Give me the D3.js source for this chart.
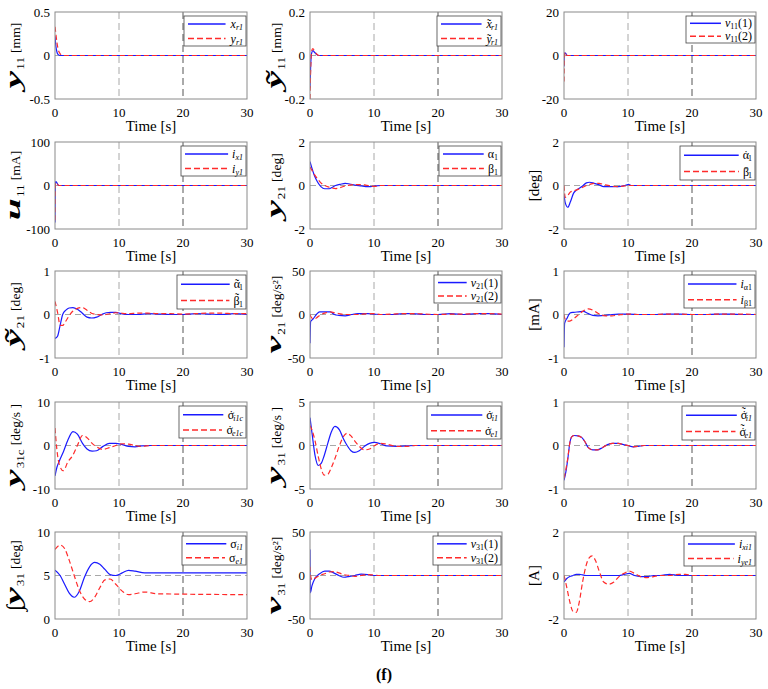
<!DOCTYPE html>
<html>
<head>
<meta charset="utf-8">
<script src="https://cdn.jsdelivr.net/npm/d3@7"></script>
<style>
  body { margin: 0; background: #fff; }
  svg { font-family: "Liberation Serif", "Times New Roman", serif; }
</style>
</head>
<body>
<svg id="chart" width="768" height="689"></svg>
<script>
// ---- data (time in s) ----
const xTicks = [0, 10, 20, 30];

const p1Time = [0, 0.15, 0.3, 0.5, 0.8, 1.2, 30];
const p1S1 = [0.22, 0.1, 0.04, 0.01, 0, 0, 0];
const p1S2 = [0.33, 0.24, 0.15, 0.07, 0.02, 0, 0];

const p2Time = [0, 0.1, 0.25, 0.45, 0.7, 1.0, 1.4, 30];
const p2S1 = [-0.15, -0.05, 0.01, 0.022, 0.015, 0.006, 0, 0];
const p2S2 = [-0.2, -0.07, 0.02, 0.032, 0.02, 0.008, 0, 0];

const p3Time = [0, 0.05, 0.15, 0.3, 0.5, 30];
const p3S1 = [-5, 0.5, 1.2, 0.8, 0, 0];
const p3S2 = [-12, -2, 1.5, 0.8, 0, 0];

const p4Time = [0, 0.05, 0.15, 0.3, 0.6, 30];
const p4S1 = [-85, 5, 9, 6, 0, 0];
const p4S2 = [-80, 3, 7, 5, 0, 0];

const p5Time = [0, 0.3, 0.7, 1.2, 1.7, 2.3, 3, 3.5, 4, 4.7, 5.5, 6.2, 7, 8, 8.7, 9.5, 10.2, 11, 30];
const p5S1 = [1.1, 0.8, 0.45, 0.15, -0.05, -0.15, -0.15, -0.08, 0.0, 0.05, 0.1, 0.07, 0.02, -0.02, -0.05, -0.05, -0.02, 0, 0];
const p5S2 = [0.85, 0.7, 0.5, 0.3, 0.12, 0.0, -0.08, -0.12, -0.14, -0.1, -0.02, 0.02, 0.04, 0.04, 0.02, -0.02, -0.04, 0, 0];

const p6Time = [0, 0.2, 0.6, 1.0, 1.5, 2, 2.8, 3.5, 4.0, 4.7, 5.5, 6.2, 7.5, 8.5, 9.5, 10.1, 10.5, 11, 30];
const p6S1 = [-0.4, -0.8, -1.0, -0.75, -0.35, -0.2, -0.05, 0.12, 0.15, 0.1, 0.03, -0.05, -0.05, -0.05, 0.0, 0.05, 0, 0, 0];
const p6S2 = [0.0, -0.55, -0.45, -0.3, -0.25, -0.2, -0.1, 0.0, 0.05, 0.1, 0.1, 0.05, -0.03, -0.05, -0.02, 0, 0, 0, 0];

const p7Time = [0, 0.4, 0.8, 1.2, 1.7, 2.2, 2.8, 3.5, 4.2, 5, 5.7, 6.5, 7.3, 8, 8.7, 9.5, 10.3, 11.5, 13, 14.5, 16, 18, 20, 22, 24, 26, 28, 30];
const p7S1 = [-0.55, -0.5, -0.25, 0.0, 0.1, 0.15, 0.16, 0.12, 0.04, -0.06, -0.08, -0.06, 0.0, 0.04, 0.05, 0.05, 0.02, 0.0, 0.0, 0.02, 0.01, 0.0, 0.0, 0.02, 0.01, 0.0, 0.02, 0.0];
const p7S2 = [0.3, 0.05, -0.25, -0.25, -0.15, -0.03, 0.08, 0.14, 0.16, 0.1, 0.03, 0.0, -0.01, 0.0, 0.02, 0.04, 0.03, 0.02, 0.03, 0.03, 0.02, 0.02, 0.01, 0.02, 0.03, 0.03, 0.02, 0.02];

const p8Time = [0, 0.1, 0.5, 1.0, 1.5, 2.5, 3.2, 3.8, 4.5, 5.5, 6.5, 7.5, 9, 10, 11, 13, 14.5, 16, 18, 20, 22, 24, 26, 28, 30];
const p8S1 = [-33, -8, -5, 0, 3, 3, 3, 0, -1, -1.5, 0, 1, 1, 0.5, 0, 0, 1, 1, 0, 0, 1, 0, 1, 1, 0];
const p8S2 = [0, -2, -5, -4, -1, 2, 3, 2, 1, 0, 0, 0, 1, 1, 0, 0.5, 1, 1, 0.5, 0, 0.5, 0.5, 1, 1, 0.5];

const p9Time = [0, 0.1, 0.5, 0.9, 1.5, 2.3, 3, 3.8, 4.5, 5.3, 6.5, 7.5, 8.5, 10, 12, 14, 16, 18, 20, 22, 24, 26, 28, 30];
const p9S1 = [-0.75, -0.2, -0.08, 0.03, 0.05, 0.06, 0.07, 0.02, -0.02, -0.03, -0.02, 0.0, 0.01, 0.01, 0.0, 0.0, 0.01, 0.01, 0.0, 0.0, 0.01, 0.01, 0.0, 0.0];
const p9S2 = [0, -0.08, -0.15, -0.15, -0.1, 0.0, 0.08, 0.13, 0.1, 0.03, -0.03, -0.03, -0.01, 0.01, 0.0, 0.0, 0.01, 0.01, 0.0, 0.0, 0.01, 0.01, 0.01, 0.0];

const p10Time = [0, 0.3, 0.7, 1.3, 2.0, 2.8, 3.5, 4.3, 5.0, 5.8, 6.5, 7.5, 8.5, 9.5, 10.5, 11.5, 12.5, 13.5, 15, 30];
const p10S1 = [-7, -5, -3.5, -1.5, 1.2, 3.2, 2.6, 0.5, -0.8, -1.3, -1.2, -0.2, 0.5, 0.5, 0.2, -0.2, -0.3, -0.1, 0, 0];
const p10S2 = [4, -1, -4.5, -5.8, -3.8, -2.2, 0.0, 2.3, 1.8, 0.5, -0.3, -0.9, -0.5, 0.0, 0.4, 0.3, 0.0, -0.2, 0, 0];

const p11Time = [0, 0.3, 0.8, 1.3, 1.8, 2.2, 2.8, 3.3, 3.9, 4.6, 5.2, 5.8, 6.4, 7.0, 7.7, 8.5, 9.3, 10.1, 11, 12, 13.5, 15, 16.5, 30];
const p11S1 = [3.2, 1.5, -1.2, -2.3, -2.0, -1.2, 0.3, 1.5, 2.2, 1.8, 0.8, 0.0, -0.6, -0.8, -0.6, -0.1, 0.25, 0.35, 0.2, -0.05, -0.1, -0.05, 0, 0];
const p11S2 = [2.3, 1.8, 0.5, -1.3, -2.8, -3.4, -3.3, -2.6, -1.5, 0.0, 1.0, 1.4, 1.1, 0.5, -0.1, -0.5, -0.4, 0.0, 0.25, 0.15, -0.1, -0.1, 0, 0];

const p12Time = [0, 0.3, 0.6, 0.9, 1.2, 1.6, 2.2, 2.8, 3.3, 3.8, 4.5, 5.2, 6, 6.8, 7.6, 8.5, 9.3, 10, 10.8, 11.6, 12.5, 30];
const p12S1 = [-0.8, -0.6, -0.3, 0.05, 0.2, 0.23, 0.22, 0.18, 0.08, -0.05, -0.1, -0.1, -0.05, 0.02, 0.05, 0.05, 0.02, 0.0, -0.03, -0.02, 0, 0];
const p12S2 = [-0.75, -0.55, -0.28, 0.05, 0.2, 0.23, 0.22, 0.18, 0.08, -0.05, -0.1, -0.1, -0.05, 0.02, 0.05, 0.05, 0.02, 0.0, -0.03, -0.02, 0, 0];

const p13Time = [0, 0.8, 1.5, 2.2, 3.0, 3.8, 4.6, 5.4, 6.2, 7.0, 7.8, 8.6, 9.5, 10.5, 11.5, 12.5, 14, 16, 30];
const p13S1 = [5.6, 5.0, 4.0, 3.0, 2.5, 3.2, 4.8, 6.0, 6.5, 6.3, 5.7, 5.1, 5.0, 5.3, 5.6, 5.5, 5.3, 5.3, 5.3];
const p13S2 = [8.0, 8.5, 8.1, 6.8, 5.0, 3.3, 2.3, 2.0, 2.5, 3.6, 4.5, 4.6, 4.0, 3.2, 2.8, 2.9, 3.1, 2.9, 2.8];

const p14Time = [0, 0.05, 0.3, 0.8, 1.5, 2.3, 3.0, 3.7, 4.5, 5.3, 6.2, 7, 8, 9, 10, 11, 30];
const p14S1 = [30, -20, -12, -3, 2, 5, 5, 3, 0, -2, -1, 0, 1.5, 1, 0, 0, 0];
const p14S2 = [10, 2, -5, -3, 0, 2, 4, 4.5, 3, 1, 0, -1, 0, 1, 0.5, 0, 0];

const p15Time = [0, 0.4, 0.9, 1.4, 1.9, 2.4, 2.9, 3.4, 3.9, 4.4, 4.9, 5.5, 6.2, 7, 7.8, 8.6, 9.4, 10.2, 11, 12, 13, 14, 15, 16.5, 18, 19, 20, 30];
const p15S1 = [-0.3, -0.15, -0.05, 0.0, 0.05, 0.05, 0.03, 0.0, 0, 0, 0, 0, 0, 0, 0, 0, 0.05, 0.1, 0.0, -0.05, -0.05, 0, 0, 0.05, 0, 0, 0, 0];
const p15S2 = [0, -0.5, -1.2, -1.65, -1.7, -1.2, -0.3, 0.4, 0.8, 0.9, 0.7, 0.2, -0.3, -0.4, -0.3, -0.05, 0.1, 0.2, 0.1, -0.05, -0.1, -0.05, 0, 0, 0.05, 0.05, 0, 0];

// y ticks per panel (min, reference line, max)
const yTicks = [
  [-0.5, 0, 0.5], [-0.2, 0, 0.2], [-20, 0, 20],
  [-100, 0, 100], [-2, 0, 2], [-2, 0, 2],
  [-1, 0, 1], [-50, 0, 50], [-1, 0, 1],
  [-10, 0, 10], [-5, 0, 5], [-1, 0, 1],
  [0, 5, 10], [-50, 0, 50], [-2, 0, 2]
];

// labels: [text, kind]
const yLabels = [
  [['y', 'v'], ['11', 's'], ['[mm]', 'u']],
  [['ỹ', 'v'], ['11', 's'], ['[mm]', 'u']],
  null,
  [['u', 'v'], ['11', 's'], ['[mA]', 'u']],
  [['y', 'v'], ['21', 's'], ['[deg]', 'u']],
  [['[deg]', 'uo']],
  [['ỹ', 'v'], ['21', 's'], ['[deg]', 'u']],
  [['v', 'v'], ['21', 's'], ['[deg/s²]', 'u']],
  [['[mA]', 'uo']],
  [['y', 'v'], ['31c', 's'], ['[deg/s ]', 'u']],
  [['y', 'v'], ['31', 's'], ['[deg/s ]', 'u']],
  null,
  [['∫', 'int'], ['y', 'v'], ['31', 's'], ['[deg]', 'u']],
  [['v', 'v'], ['31', 's'], ['[deg/s²]', 'u']],
  [['[A]', 'uo']]
];

const legendLabels = [
  [[['x', 'i'], ['r1', 'si']], [['y', 'i'], ['r1', 'si']]],
  [[['x', 'i'], ['˜', 'acc'], ['r1', 'si']], [['y', 'i'], ['˜', 'acc'], ['r1', 'si']]],
  [[['v', 'i'], ['11', 's'], ['(1)', 'n']], [['v', 'i'], ['11', 's'], ['(2)', 'n']]],
  [[['i', 'i'], ['x1', 'si']], [['i', 'i'], ['y1', 'si']]],
  [[['α', 'n'], ['1', 's']], [['β', 'n'], ['1', 's']]],
  [[['α', 'n'], ['˙', 'acc'], ['1', 's']], [['β', 'n'], ['˙', 'acc'], ['1', 's']]],
  [[['α', 'n'], ['˜', 'acc'], ['1', 's']], [['β', 'n'], ['˜', 'acc2'], ['1', 's']]],
  [[['v', 'i'], ['21', 's'], ['(1)', 'n']], [['v', 'i'], ['21', 's'], ['(2)', 'n']]],
  [[['i', 'i'], ['α1', 's']], [['i', 'i'], ['β1', 's']]],
  [[['σ', 'n'], ['˙', 'acc'], ['i1c', 'si']], [['σ', 'n'], ['˙', 'acc'], ['e1c', 'si']]],
  [[['σ', 'n'], ['˙', 'acc'], ['i1', 'si']], [['σ', 'n'], ['˙', 'acc'], ['e1', 'si']]],
  [[['σ', 'n'], ['˙', 'acc'], ['˜', 'acc2'], ['i1', 'si']], [['σ', 'n'], ['˙', 'acc'], ['˜', 'acc2'], ['e1', 'si']]],
  [[['σ', 'n'], ['i1', 'si']], [['σ', 'n'], ['e1', 'si']]],
  [[['v', 'i'], ['31', 's'], ['(1)', 'n']], [['v', 'i'], ['31', 's'], ['(2)', 'n']]],
  [[['i', 'i'], ['xi1', 'si']], [['i', 'i'], ['ye1', 'si']]]
];

const seriesTime = [p1Time, p2Time, p3Time, p4Time, p5Time, p6Time, p7Time, p8Time, p9Time, p10Time, p11Time, p12Time, p13Time, p14Time, p15Time];
const seriesA = [p1S1, p2S1, p3S1, p4S1, p5S1, p6S1, p7S1, p8S1, p9S1, p10S1, p11S1, p12S1, p13S1, p14S1, p15S1];
const seriesB = [p1S2, p2S2, p3S2, p4S2, p5S2, p6S2, p7S2, p8S2, p9S2, p10S2, p11S2, p12S2, p13S2, p14S2, p15S2];

// ---- layout ----
const colX = [55, 310, 564];
const labelX = [20, 281, 539];
const rowY = [12, 142, 271, 402, 532];
const pw = 192, ph = 87;
const legendSize = [
  [62, 30], [64, 30], [69, 27],
  [65, 30], [62, 30], [75, 34],
  [69, 34], [67, 28], [71, 33],
  [67, 32], [74, 33], [73, 34],
  [64, 29], [68, 29], [71, 30]
];

const blue = '#1a1aff', red = '#ff2b2b';
const svg = d3.select('#chart');

const legendStyle = {
  i: { size: 12, shift: 0, italic: true },
  n: { size: 12, shift: 0 },
  s: { size: 8, shift: 2 },
  si: { size: 8, shift: 2, italic: true },
  acc: { size: 12, shift: 0, dx: -5 },
  acc2: { size: 12, shift: -3, dx: -4.5 }
};
const ylabStyle = {
  v: { size: 21, shift: 0, bold: true, italic: true, stretch: 1.9, gap: 1 },
  int: { size: 22, shift: 2, stretch: 1, gap: 0 },
  s: { size: 11, shift: 4, stretch: 1.2, gap: 4 },
  u: { size: 13, shift: 0, stretch: 1.05, gap: 0 },
  uo: { size: 15, shift: 0, stretch: 1, gap: 0 }
};

function addRuns(textSel, runs, sizes) {
  let cur = 0;
  runs.forEach(([str, kind]) => {
    const st = sizes[kind];
    const ts = textSel.append('tspan').text(str)
      .attr('font-size', st.size)
      .attr('dy', st.shift - cur);
    if (st.dx) ts.attr('dx', st.dx);
    if (st.italic) ts.attr('font-style', 'italic');
    if (st.bold) ts.attr('font-weight', 'bold');
    cur = st.shift;
  });
}

// rotated axis label built from separately stretched pieces
function drawYLabel(g, runs, bx, cy) {
  const grp = g.append('g');
  let pos = 0;
  runs.forEach(([str, kind]) => {
    const st = ylabStyle[kind];
    const tx = grp.append('text').text(str).attr('font-size', st.size).attr('y', st.shift);
    if (st.italic) tx.attr('font-style', 'italic');
    if (st.bold) tx.attr('font-weight', 'bold');
    const w = tx.node().getComputedTextLength() * st.stretch;
    tx.attr('transform', `translate(${pos},0) scale(${st.stretch},1)`);
    pos += w + st.gap;
  });
  grp.attr('transform', `translate(${bx},${cy + pos / 2}) rotate(-90)`);
}

for (let k = 0; k < 15; k++) {
  const c = k % 3, r = Math.floor(k / 3);
  const x0 = colX[c], y0 = rowY[r];
  const ticks = yTicks[k];
  const x = d3.scaleLinear().domain([0, 30]).range([x0, x0 + pw]);
  const y = d3.scaleLinear().domain([ticks[0], ticks[2]]).range([y0 + ph, y0]);
  const g = svg.append('g');

  g.append('clipPath').attr('id', 'clip' + k).append('rect')
    .attr('x', x0).attr('y', y0).attr('width', pw).attr('height', ph);

  // reference lines
  g.append('line').attr('x1', x0).attr('x2', x0 + pw)
    .attr('y1', y(ticks[1])).attr('y2', y(ticks[1]))
    .attr('stroke', '#a8a8a8').attr('stroke-dasharray', '6,4');
  g.append('line').attr('x1', x(10)).attr('x2', x(10)).attr('y1', y0).attr('y2', y0 + ph)
    .attr('stroke', '#a8a8a8').attr('stroke-dasharray', '7,4');
  g.append('line').attr('x1', x(20)).attr('x2', x(20)).attr('y1', y0).attr('y2', y0 + ph)
    .attr('stroke', '#555').attr('stroke-dasharray', '7,4');

  const t = seriesTime[k];
  const line = d3.line().x((d, i) => x(t[i])).y(d => y(d)).curve(d3.curveMonotoneX);
  const lines = g.append('g').attr('clip-path', `url(#clip${k})`);
  lines.append('path').attr('d', line(seriesA[k])).attr('fill', 'none')
    .attr('stroke', blue).attr('stroke-width', 1.2);
  lines.append('path').attr('d', line(seriesB[k])).attr('fill', 'none')
    .attr('stroke', red).attr('stroke-width', 1.2).attr('stroke-dasharray', '5,3');

  // frame
  g.append('rect').attr('x', x0).attr('y', y0).attr('width', pw).attr('height', ph)
    .attr('fill', 'none').attr('stroke', '#8a8a8a').attr('stroke-width', 1);

  // tick labels
  g.selectAll('.xt').data(xTicks).enter().append('text')
    .attr('x', d => x(d)).attr('y', y0 + ph + 18)
    .attr('text-anchor', 'middle').attr('font-size', 13).text(d => d);
  g.selectAll('.yt').data([ticks[0], ticks[1], ticks[2]]).enter().append('text')
    .attr('x', x0 - 5).attr('y', d => y(d) + 4.5)
    .attr('text-anchor', 'end').attr('font-size', 13).text(d => d);
  g.append('text').attr('x', x0 + pw / 2).attr('y', y0 + ph + 32)
    .attr('text-anchor', 'middle').attr('font-size', 15).text('Time [s]');

  if (yLabels[k]) drawYLabel(g, yLabels[k], labelX[c], y0 + ph / 2);

  // legend
  const [lw, lh] = legendSize[k];
  const lx = x0 + pw - lw - 1, ly = y0 + 4;
  const leg = g.append('g');
  leg.append('rect').attr('x', lx).attr('y', ly).attr('width', lw).attr('height', lh)
    .attr('fill', '#fff').attr('stroke', '#444').attr('stroke-width', 0.8);
  legendLabels[k].forEach((runs, i) => {
    const yy = ly + lh * (i === 0 ? 0.27 : 0.75);
    const txt = leg.append('text').attr('x', lx + lw - 3).attr('y', yy + 4)
      .attr('text-anchor', 'end');
    addRuns(txt, runs, legendStyle);
    const tw = txt.node().getBBox().width;
    leg.append('line').attr('x1', lx + 4).attr('x2', lx + lw - 3 - tw - 4)
      .attr('y1', yy).attr('y2', yy)
      .attr('stroke', i === 0 ? blue : red).attr('stroke-width', 1.5)
      .attr('stroke-dasharray', i === 0 ? null : '6,3');
  });
}

svg.append('text').attr('x', 384).attr('y', 680).attr('text-anchor', 'middle')
  .attr('font-size', 16).attr('font-weight', 'bold').text('(f)');
</script>
</body>
</html>
